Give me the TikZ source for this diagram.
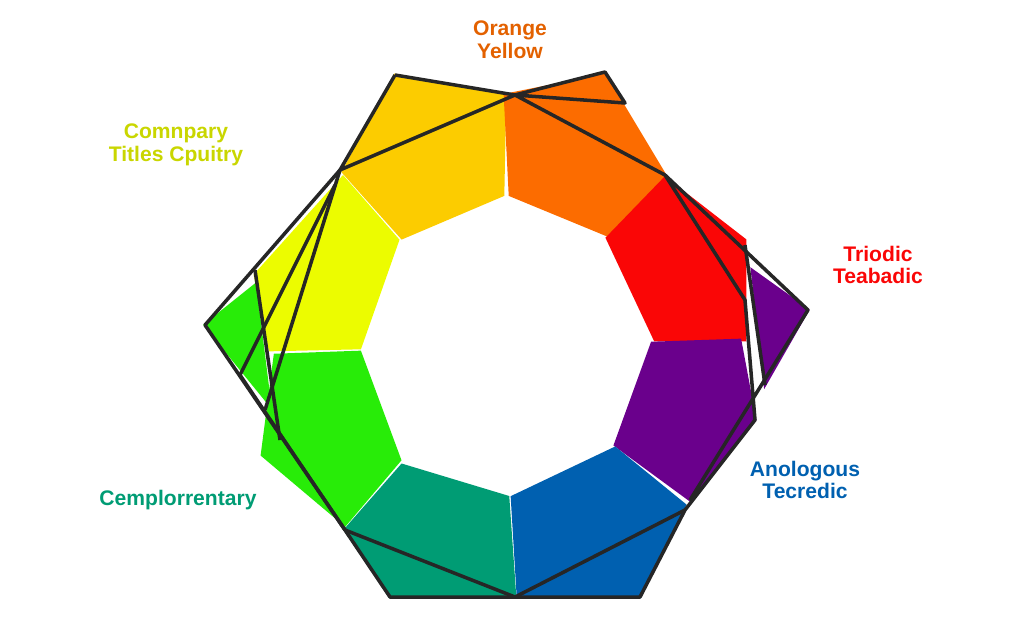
\documentclass[tikz,border=0pt]{standalone}
\usepackage{fontspec}
\setmainfont{Liberation Sans}
\begin{document}
\begin{tikzpicture}[x=0.02cm,y=-0.02cm,
 seg/.style={draw=white,line width=1.5pt},
 ol/.style={draw=black!85,line width=2pt,line join=round},
 lab/.style={font=\bfseries\fontsize{12}{13}\selectfont,align=center}]
\useasboundingbox (0,0) rectangle (1024,630);
\definecolor{cyo}{RGB}{252,204,0}\definecolor{cor}{RGB}{252,108,0}
\definecolor{cre}{RGB}{250,6,6}\definecolor{cpu}{RGB}{106,0,140}
\definecolor{cbl}{RGB}{0,96,176}\definecolor{cte}{RGB}{0,156,116}
\definecolor{cgr}{RGB}{40,236,8}\definecolor{cye}{RGB}{236,252,0}
\fill[seg,cyo] (395,75)--(505,95)--(503,195)--(402,238)--(343,172)--cycle;
\fill[seg,cor] (505,95)--(605,75)--(665,175)--(607,235)--(510,195)--cycle;
\fill[seg,cre] (665,178)--(745,240)--(745,340)--(655,340)--(607,238)--cycle;
\fill[seg,cpu] (652,343)--(740,340)--(755,420)--(690,500)--(615,445)--cycle;
\fill[seg,cpu] (752,270)--(808,310)--(765,385)--cycle;
\fill[seg,cbl] (615,448)--(685,505)--(640,597)--(518,597)--(512,497)--cycle;
\fill[seg,cte] (402,465)--(508,497)--(515,597)--(390,597)--(345,530)--cycle;
\fill[seg,cgr] (275,355)--(360,352)--(400,460)--(345,525)--(262,455)--cycle;
\fill[seg,cgr] (205,325)--(255,285)--(270,405)--cycle;
\fill[seg,cye] (343,177)--(398,240)--(360,348)--(270,350)--(255,275)--cycle;
\draw[ol] (395,75)--(515,95)--(605,72)--(625,103)--(515,95)--(665,175);
\draw[ol] (395,75)--(340,170)--(515,95);
\draw[ol] (340,170)--(205,325)--(345,530)--(390,597)--(640,597)--(685,510)--(755,420)--(745,300)--(665,175)--(808,310)--(690,500);
\draw[ol] (340,170)--(265,410);
\draw[ol] (335,185)--(240,375)--(345,530);
\draw[ol] (255,270)--(280,440);
\draw[ol] (345,530)--(515,597)--(685,510);
\draw[ol] (745,245)--(765,385);
\node[lab,text=cor!90!black] (t1) at (510,40) {Orange\\Yellow};
\node[lab,text=cye!85!black] (t2) at (176,145) {Comnpary\\Titles Cpuitry};
\node[lab,text=cre] (t3) at (878,265) {Triodic\\Teabadic};
\node[lab,text=cbl] (t4) at (805,480) {Anologous\\Tecredic};
\node[lab,text=cte] (t5) at (178,500) {Cemplorrentary};
\end{tikzpicture}
\end{document}
